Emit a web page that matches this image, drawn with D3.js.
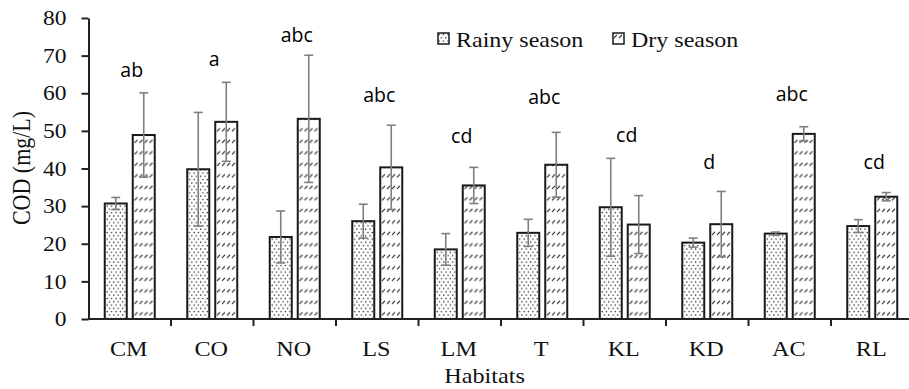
<!DOCTYPE html>
<html><head><meta charset="utf-8">
<script src="https://cdn.jsdelivr.net/npm/d3@7"></script>
<style>body{margin:0;background:#fff;} svg{display:block;}</style>
</head><body>
<svg id="c" width="909" height="389"></svg>
<script>
const categories = ["CM","CO","NO","LS","LM","T","KL","KD","AC","RL"];
const seriesNames = ["Rainy season","Dry season"];
const rainy    = [30.7, 39.8, 21.8, 26.0, 18.5, 22.9, 29.7, 20.3, 22.7, 24.7];
const rainyErr = [1.6, 15.1, 6.9, 4.5, 4.2, 3.6, 13.0, 1.2, 0.4, 1.7];
const dry      = [48.9, 52.4, 53.2, 40.3, 35.5, 41.0, 25.1, 25.2, 49.2, 32.5];
const dryErr   = [11.2, 10.5, 16.9, 11.2, 4.8, 8.6, 7.7, 8.7, 1.9, 1.1];
const letters  = ["ab","a","abc","abc","cd","abc","cd","d","abc","cd"];
const letterY  = [64.3, 67.3, 73.6, 57.7, 46.9, 57.1, 47.1, 40.0, 58.0, 39.9];
const yTicks   = [0,10,20,30,40,50,60,70,80];

const svg = d3.select("#c");
const serif = "'Liberation Serif','Times New Roman',serif";
const sans = "'Open Sans','Liberation Sans',sans-serif";

const defs = svg.append("defs");
const pd = defs.append("pattern").attr("id","dots").attr("patternUnits","userSpaceOnUse")
  .attr("width",4.4).attr("height",6.6);
pd.append("rect").attr("width",4.4).attr("height",6.6).attr("fill","#fff");
pd.append("circle").attr("cx",1.1).attr("cy",1.5).attr("r",0.75).attr("fill","#222");
pd.append("circle").attr("cx",3.3).attr("cy",4.8).attr("r",0.75).attr("fill","#222");
const ps = defs.append("pattern").attr("id","slash").attr("patternUnits","userSpaceOnUse")
  .attr("width",5).attr("height",11.5);
ps.append("rect").attr("width",5).attr("height",11.5).attr("fill","#fff");
ps.append("line").attr("x1",1).attr("y1",5).attr("x2",4).attr("y2",1.8)
  .attr("stroke","#222").attr("stroke-width",1.1);
const fills = ["url(#dots)","url(#slash)"];

const x0 = d3.scaleBand().domain(categories).range([88.5, 913.5]).paddingInner(0).paddingOuter(0);
const x1 = d3.scaleBand().domain(seriesNames).range([16.25, 66.25]).paddingInner(6/28).paddingOuter(0);
const y = d3.scaleLinear().domain([0,80]).range([319,18]);

const data = categories.map((c,i)=>({c, vals:[
  {s:seriesNames[0], v:rainy[i], e:rainyErr[i]},
  {s:seriesNames[1], v:dry[i], e:dryErr[i]}]}));

const g = svg.append("g");
const grp = g.selectAll("g.cat").data(data).join("g").attr("class","cat")
  .attr("transform",d=>`translate(${x0(d.c)},0)`);
grp.selectAll("rect").data(d=>d.vals).join("rect")
  .attr("x",d=>x1(d.s)).attr("width",x1.bandwidth())
  .attr("y",d=>y(d.v)).attr("height",d=>y(0)-y(d.v))
  .attr("fill",(d,i)=>fills[i]).attr("stroke","#1a1a1a").attr("stroke-width",2);
// error bars
const eb = grp.selectAll("g.eb").data(d=>d.vals).join("g").attr("class","eb");
eb.append("line").attr("x1",d=>x1(d.s)+x1.bandwidth()/2).attr("x2",d=>x1(d.s)+x1.bandwidth()/2)
  .attr("y1",d=>y(d.v-d.e)).attr("y2",d=>y(d.v+d.e));
eb.append("line").attr("x1",d=>x1(d.s)+x1.bandwidth()/2-4.5).attr("x2",d=>x1(d.s)+x1.bandwidth()/2+4.5)
  .attr("y1",d=>y(d.v+d.e)).attr("y2",d=>y(d.v+d.e));
eb.append("line").attr("x1",d=>x1(d.s)+x1.bandwidth()/2-4.5).attr("x2",d=>x1(d.s)+x1.bandwidth()/2+4.5)
  .attr("y1",d=>y(d.v-d.e)).attr("y2",d=>y(d.v-d.e));
eb.selectAll("line").attr("stroke","#7f7f7f").attr("stroke-width",1.6);

// letters
g.selectAll("text.let").data(categories).join("text").attr("class","let")
  .attr("x",(c)=>x0(c)+x0.bandwidth()/2+2).attr("y",(c,i)=>y(letterY[i]))
  .attr("text-anchor","middle").attr("font-family",sans).attr("font-size",19.5).attr("fill","#000")
  .text((c,i)=>letters[i]);

// Y axis
const yAxis = d3.axisLeft(y).tickValues(yTicks).tickSize(7).tickPadding(15).tickSizeOuter(0);
const ya = svg.append("g").attr("transform","translate(88.5,0)").call(yAxis);
ya.select(".domain").attr("stroke","#222").attr("stroke-width",2);
ya.selectAll(".tick line").attr("stroke","#222").attr("stroke-width",2);
ya.selectAll(".tick text").attr("font-family",serif).attr("font-size",21).attr("fill","#111");
ya.selectAll(".tick text").each(function(){
  const t=d3.select(this); const xx=+t.attr("x");
  t.attr("x",null).attr("transform",`translate(${xx},0) scale(1.12,1)`);
});

// X axis
const xa = svg.append("g").attr("transform","translate(0,319)");
xa.append("line").attr("x1",88.5).attr("x2",913.5).attr("y1",0).attr("y2",0).attr("stroke","#222").attr("stroke-width",2);
xa.selectAll("line.tk").data(categories).join("line").attr("class","tk")
  .attr("x1",c=>x0(c)+x0.bandwidth()).attr("x2",c=>x0(c)+x0.bandwidth())
  .attr("y1",0).attr("y2",7).attr("stroke","#222").attr("stroke-width",2);
xa.selectAll("text").data(categories).join("text")
  .attr("transform",c=>`translate(${x0(c)+x0.bandwidth()/2-1},37) scale(1.1,1)`)
  .attr("text-anchor","middle").attr("font-family",serif).attr("font-size",22).attr("fill","#111")
  .text(c=>c);

// axis titles
svg.append("text").attr("transform","translate(484.5,383) scale(1.1,1)").attr("text-anchor","middle")
  .attr("font-family",serif).attr("font-size",22).attr("fill","#111").text("Habitats");
svg.append("text").attr("transform","translate(30,168) rotate(-90) scale(1,1.1)").attr("text-anchor","middle")
  .attr("font-family",serif).attr("font-size",22).attr("fill","#111").text("COD (mg/L)");

// legend
const legX = [438, 613];
const leg = svg.append("g").selectAll("g").data(seriesNames).join("g")
  .attr("transform",(d,i)=>`translate(${legX[i]},33)`);
leg.append("rect").attr("width",11).attr("height",11).attr("fill",(d,i)=>fills[i])
  .attr("stroke","#1a1a1a").attr("stroke-width",1.5);
leg.append("text").attr("transform","translate(18,13.5) scale(1.2,1)")
  .attr("font-family",serif).attr("font-size",20).attr("fill","#111").text(d=>d);
</script>
</body></html>
